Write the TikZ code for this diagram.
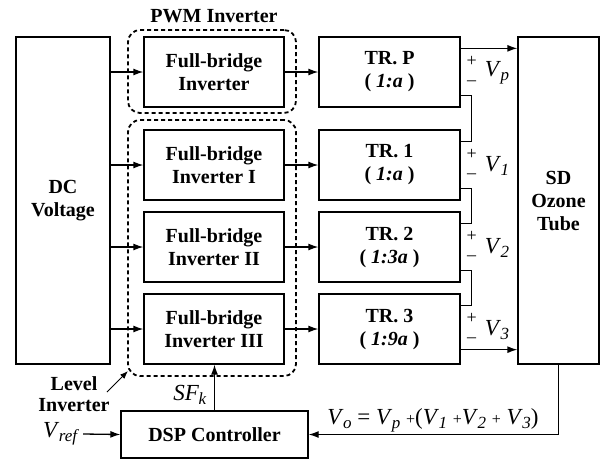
\documentclass[tikz,border=0pt]{standalone}
\usepackage{fontspec}
\setmainfont{Liberation Serif}
\usetikzlibrary{arrows.meta,calc}
\newcommand\myV[2]{\textit{#1}\kern-0.5pt\raisebox{-0.18em}{\fontsize{17}{17}\selectfont\textit{#2}}}
\newcommand\smallplus{{\fontsize{16}{16}\selectfont+}}
\begin{document}
\begin{tikzpicture}[x=1pt,y=-1pt,
 box/.style={draw,line width=1.3pt,font=\bfseries\fontsize{20}{23}\selectfont,align=center,inner sep=0pt},
 arr/.style={-{Latex[length=10pt,width=7pt]},line width=1.3pt},
 ln/.style={line width=1.3pt},
 grp/.style={draw,line width=1.8pt,rounded corners=12pt,dash pattern=on 4pt off 3pt,inner sep=0pt},
 lbl/.style={font=\bfseries\fontsize{20}{21}\selectfont,align=center,inner sep=0pt},
 pm/.style={font=\fontsize{18}{18}\selectfont,inner sep=0pt},
 vl/.style={font=\fontsize{23}{23}\selectfont,inner sep=0pt}]
\useasboundingbox (0,0) rectangle (602,459);
% groups
\node[grp,minimum width=168pt,minimum height=83pt] (pwm) at (212,71.5) {};
\node[grp,minimum width=168pt,minimum height=256pt] (lvl) at (212,248) {};
\node[lbl] (pwmtxt) at (214,16) {PWM Inverter};
\node[lbl] (lvltxt) at (74,394) {Level\\Inverter};
% boxes
\node[box,minimum width=94pt,minimum height=327pt] (dc) at (63,200.5) {DC\\Voltage};
\node[box,minimum width=140pt,minimum height=70pt] (inp) at (214,72) {Full-bridge\\Inverter};
\node[box,minimum width=140pt,minimum height=70pt] (in1) at (214,165) {Full-bridge\\Inverter I};
\node[box,minimum width=140pt,minimum height=70pt] (in2) at (214,247) {Full-bridge\\Inverter II};
\node[box,minimum width=140pt,minimum height=70pt] (in3) at (214,329) {Full-bridge\\Inverter III};
\node[box,minimum width=141pt,minimum height=70pt] (trp) at (389.5,72) {TR. P\\( \textit{1:a} )};
\node[box,minimum width=141pt,minimum height=70pt] (tr1) at (389.5,165) {TR. 1\\( \textit{1:a} )};
\node[box,minimum width=141pt,minimum height=70pt] (tr2) at (389.5,247) {TR. 2\\( \textit{1:3a} )};
\node[box,minimum width=141pt,minimum height=70pt] (tr3) at (389.5,329) {TR. 3\\( \textit{1:9a} )};
\node[box,minimum width=81pt,minimum height=327pt] (sd) at (558.5,200.5) {SD\\Ozone\\Tube};
\node[box,minimum width=187pt,minimum height=47pt] (dsp) at (214.5,434.5) {DSP Controller};
% DC to inverters
\foreach \n in {inp,in1,in2,in3}{
  \draw[arr] (dc.east |- \n.west) -- (\n.west);
}
% inverters to transformers
\draw[arr] (inp.east) -- (trp.west);
\draw[arr] (in1.east) -- (tr1.west);
\draw[arr] (in2.east) -- (tr2.west);
\draw[arr] (in3.east) -- (tr3.west);
% outputs
\coordinate (o1) at ($(trp.north east)+(0,12)$);
\draw[arr] (o1) -- (o1 -| sd.west);
\coordinate (o3) at ($(tr3.south east)+(0,-15)$);
\draw[arr] (o3) -- (o3 -| sd.west);
\draw[ln] ($(trp.south east)+(0,-12)$) -- ++(11,0) |- ($(tr1.north east)+(0,12)$);
\draw[ln] ($(tr1.south east)+(0,-12)$) -- ++(11,0) |- ($(tr2.north east)+(0,12)$);
\draw[ln] ($(tr2.south east)+(0,-12)$) -- ++(11,0) |- ($(tr3.north east)+(0,12)$);
% +/- and V labels
\foreach \n/\s [count=\i] in {trp/p,tr1/1,tr2/2,tr3/3}{
  \node[pm] (plus\i) at ($(\n.east)+(11,-11)$) {+};
  \node[pm] (minus\i) at ($(\n.east)+(11,11)$) {\textendash};
  \node[vl,anchor=west] (v\i) at ($(\n.east)+(24,1)$) {\myV{V}{\s}};
}
% feedback
\draw[arr] (sd.south) |- (dsp.east);
\node[vl] (vo) at (433,420) {\myV{V}{o} = \myV{V}{p} \smallplus(\myV{V}{1} \smallplus\myV{V}{2} \smallplus\ \myV{V}{3})};
\node[vl] (vref) at (61,434) {\myV{V}{ref}};
\draw[arr] ([xshift=4pt]vref.east) -- (dsp.west);
\draw[arr] (dsp.north) -- (dsp.north |- in3.south);
\node[vl] (sfk) at (190,395) {\myV{SF}{k}};
\coordinate (la) at (107,392);
\coordinate (lb) at (128,371);
\draw[-{Latex[length=8pt,width=6pt]},line width=1pt] (la) -- (lb);
\end{tikzpicture}
\end{document}
